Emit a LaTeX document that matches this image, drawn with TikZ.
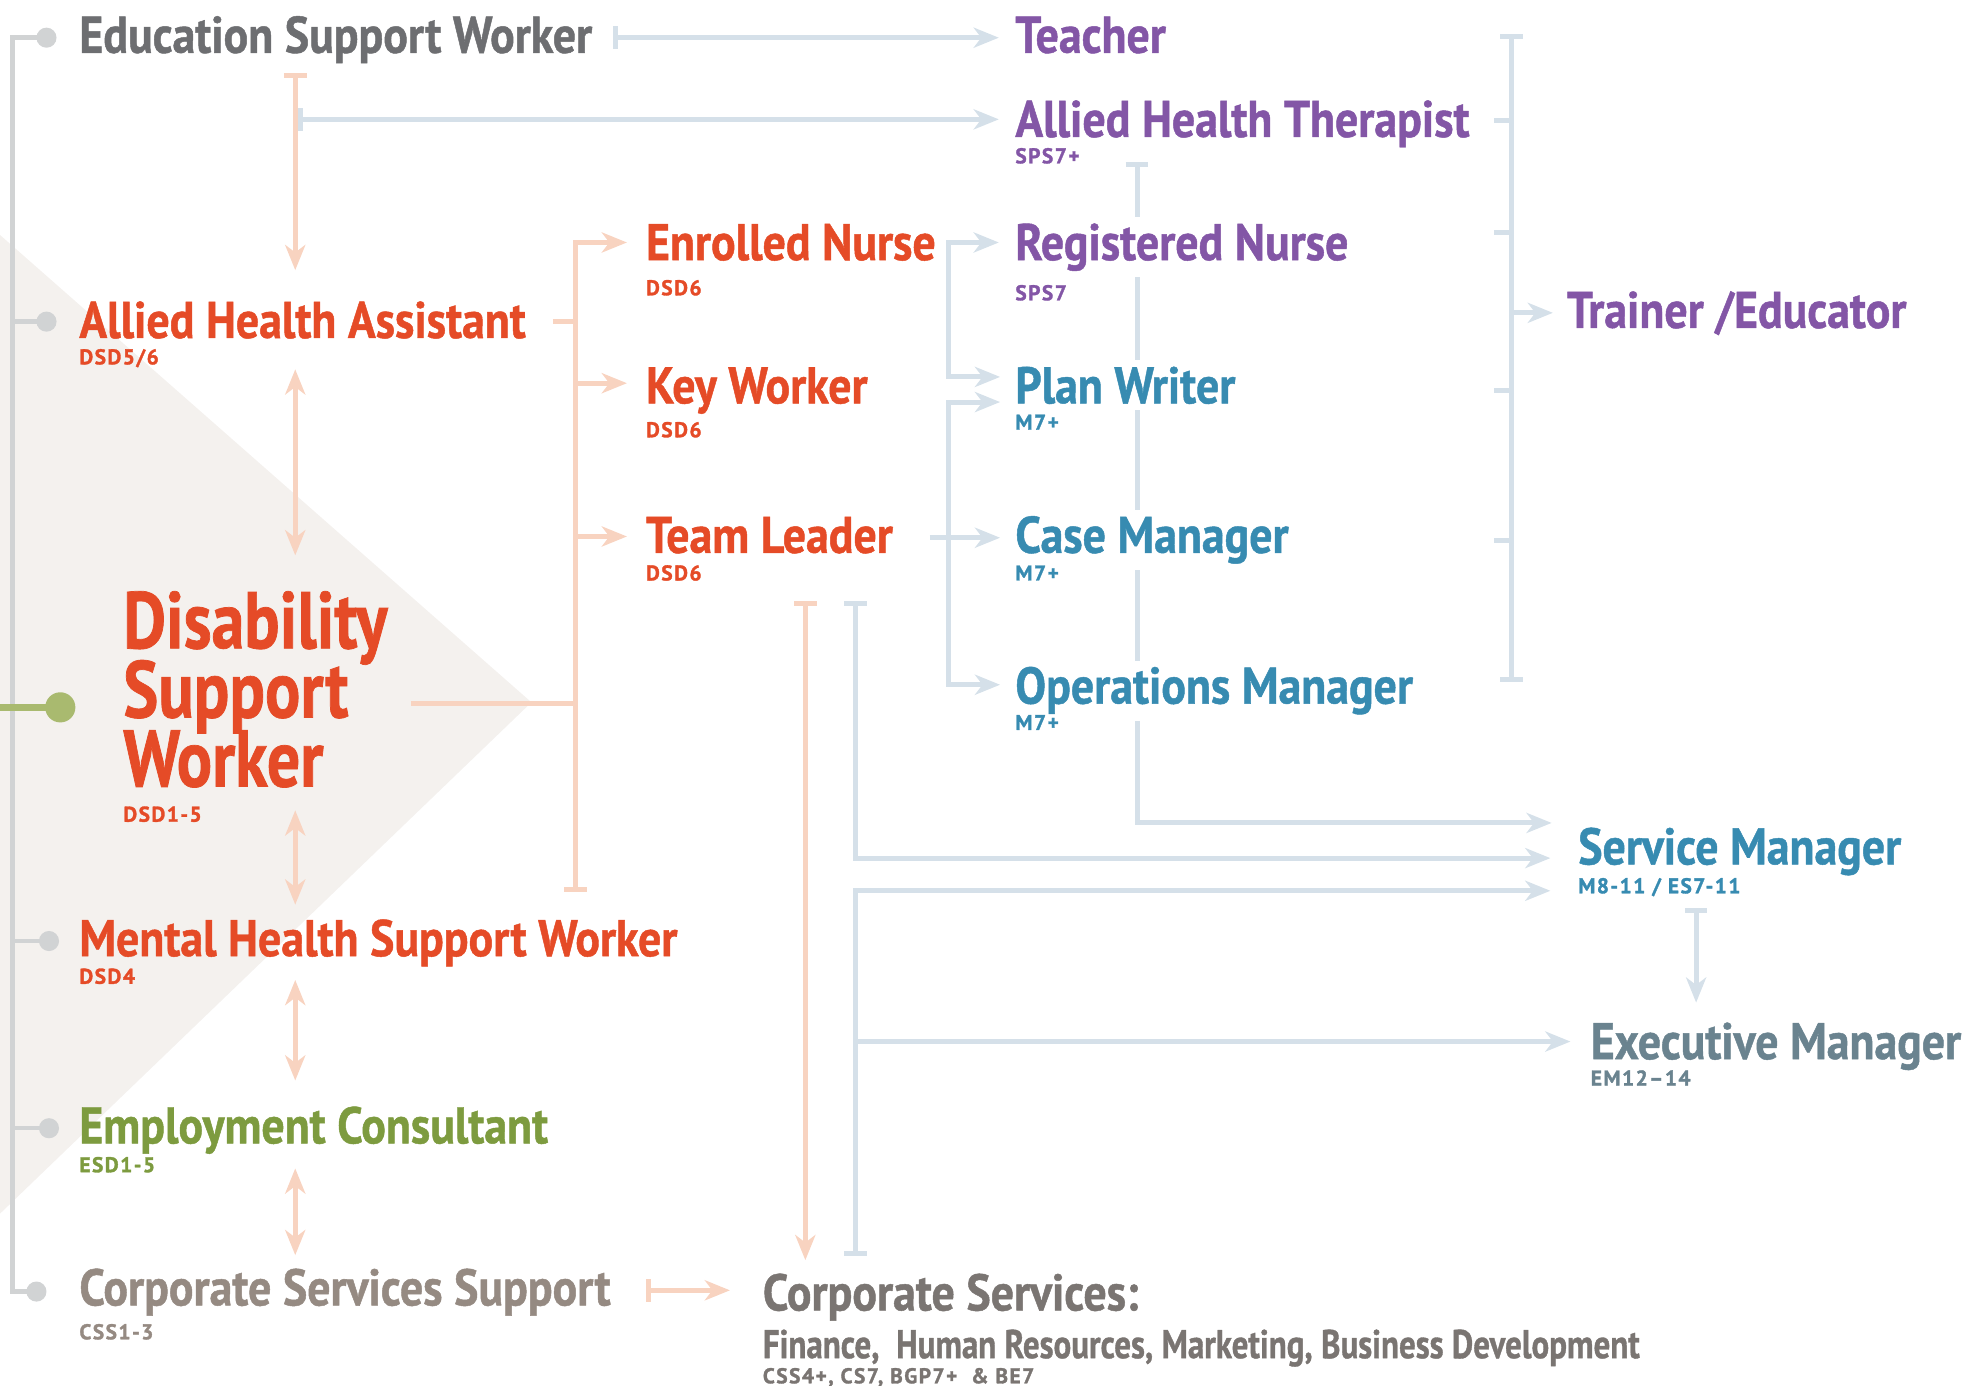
\documentclass[tikz,border=0pt]{standalone}
\usepackage{fontspec}
\usetikzlibrary{arrows.meta}
\newfontfamily\cf[FakeStretch=0.89,FakeBold=0.9]{PT Sans}
\newfontfamily\cfn[FakeStretch=0.82,FakeBold=0.9]{PT Sans}
\newfontfamily\subf[LetterSpace=7,FakeBold=1.5]{PT Sans}
\definecolor{cRed}{HTML}{E54B27}
\definecolor{cPur}{HTML}{8356A6}
\definecolor{cTeal}{HTML}{378BB1}
\definecolor{cGry}{HTML}{6D6E71}
\definecolor{cGrn}{HTML}{7D9B3F}
\definecolor{cBrn}{HTML}{958A82}
\definecolor{cCS}{HTML}{7A7572}
\definecolor{cSlate}{HTML}{6A838F}
\definecolor{lnO}{HTML}{F8D3C0}
\definecolor{lnB}{HTML}{D5E0E9}
\definecolor{lnG}{HTML}{D1D3D4}
\definecolor{dotG}{HTML}{A9BA6F}
\definecolor{tri}{HTML}{F4F1EE}
\pgfdeclarelayer{bgbg}\pgfdeclarelayer{bg}\pgfsetlayers{bgbg,bg,main}
\begin{document}
\begin{tikzpicture}[x=1pt,y=-1pt,
  Tp/.tip={Stealth[length=20pt,width=16pt,inset=6pt]},
  Br/.tip={Bar[width=18pt]},
  lab/.style={anchor=base west, inner sep=0pt, font=\cf\bfseries\fontsize{41}{41}\selectfont},
  sub/.style={anchor=base west, inner sep=0pt, font=\subf\bfseries\fontsize{17}{17}\selectfont},
  wf/.style={fill=white, inner xsep=0pt, inner ysep=5pt},
  ol/.style={draw=lnO, line width=4pt},
  bl/.style={draw=lnB, line width=4pt},
  gl/.style={draw=lnG, line width=3.5pt},
  gdot/.style={circle, fill=lnG, minimum size=16pt, inner sep=0pt},
]
\useasboundingbox (0,0) rectangle (1568,1103);
% ---------- nodes ----------
\node[lab, text=cGry] (esw) at (63,42) {Education Support Worker};
\node[lab, text=cPur] (teacher) at (808,42) {Teacher};
\node[lab, wf, text=cPur] (aht) at (808,109) {Allied Health Therapist};
\node[sub, text=cPur] (ahtg) at (808,130) {SPS7+};
\node[lab, wf, text=cPur] (rn) at (808,207) {Registered Nurse};
\node[sub, text=cPur] (rng) at (808,239) {SPS7};
\node[lab, wf, text=cTeal] (pw) at (808,321) {Plan Writer};
\node[sub, text=cTeal] (pwg) at (808,342) {M7+};
\node[lab, wf, text=cTeal] (cm) at (808,440) {Case Manager};
\node[sub, text=cTeal] (cmg) at (808,462) {M7+};
\node[lab, wf, text=cTeal] (om) at (808,560) {Operations Manager};
\node[sub, text=cTeal] (omg) at (808,581) {M7+};
\node[lab, text=cRed] (en) at (514,207) {Enrolled Nurse};
\node[sub, text=cRed] (eng) at (514,235) {DSD6};
\node[lab, text=cRed] (kw) at (514,321) {Key Worker};
\node[sub, text=cRed] (kwg) at (514,348) {DSD6};
\node[lab, text=cRed] (tl) at (514,440) {Team Leader};
\node[sub, text=cRed] (tlg) at (514,462) {DSD6};
\node[lab, text=cRed] (aha) at (63,269) {Allied Health Assistant};
\node[sub, text=cRed] (ahag) at (63,290) {DSD5/6};
\node[lab, text=cRed, font=\cfn\bfseries\fontsize{64}{55}\selectfont] (dsw) at (98,516)
  {\lineskiplimit=-100pt\vtop{\hbox{Disability}\hbox{Support}\hbox{Worker}}};
\node[sub, text=cRed] (dswg) at (98,654) {DSD1-5};
\node[lab, text=cRed] (mhsw) at (63,761) {Mental Health Support Worker};
\node[sub, text=cRed] (mhswg) at (63,783) {DSD4};
\node[lab, text=cGrn] (ec) at (63,910) {Employment Consultant};
\node[sub, text=cGrn] (ecg) at (63,933) {ESD1-5};
\node[lab, text=cBrn] (css) at (63,1039) {Corporate Services Support};
\node[sub, text=cBrn] (cssg) at (63,1066) {CSS1-3};
\node[lab, text=cCS] (cs) at (607,1043) {Corporate Services:};
\node[lab, text=cCS, font=\cfn\bfseries\fontsize{32}{32}\selectfont] (cssub) at (607,1081) {Finance,\ \ Human Resources, Marketing, Business Development};
\node[sub, text=cCS] (csg) at (607,1101) {CSS4+, CS7, BGP7+\ \ \& BE7};
\node[lab, text=cTeal] (sm) at (1256,688) {Service Manager};
\node[sub, text=cTeal] (smg) at (1256,711) {M8-11 / ES7-11};
\node[lab, text=cSlate] (em) at (1266,843) {Executive Manager};
\node[sub, text=cSlate] (emg) at (1266,864) {EM12–14};
\node[lab, text=cPur] (te) at (1247,261) {Trainer /Educator};
% dots
\node[gdot] (de) at (37,30) {};
\node[gdot] (da) at (37,256) {};
\node[gdot] (dm) at (39,749) {};
\node[gdot] (dc) at (39,898) {};
\node[gdot] (ds) at (29,1028) {};
\node[circle, fill=dotG, minimum size=24pt, inner sep=0pt] (dd) at (48,563) {};
% ---------- coordinates ----------
\coordinate (spT) at (10,30);
\coordinate (spB) at (10,1028);
\coordinate (g0) at (0,563);
% orange
\coordinate (oA1) at (235,58);  \coordinate (oA2) at (235,215);
\coordinate (oB1) at (235,294); \coordinate (oB2) at (235,442);
\coordinate (oC1) at (235,645); \coordinate (oC2) at (235,720);
\coordinate (oD1) at (235,780); \coordinate (oD2) at (235,860);
\coordinate (oE1) at (235,930); \coordinate (oE2) at (235,999);
\coordinate (ahaR) at (440,256);
\coordinate (dswR) at (327,560);
\coordinate (trT) at (458,193); \coordinate (trB) at (458,710);
\coordinate (enIn) at (499,193); \coordinate (kwIn) at (499,305); \coordinate (tlIn) at (499,427);
\coordinate (tlD1) at (641,478); \coordinate (csIn1) at (641,1003);
\coordinate (cssR) at (514,1027); \coordinate (csIn2) at (581,1027);
% blue
\coordinate (eswR) at (488,30); \coordinate (teIn) at (795,30);
\coordinate (ahtL) at (237,95); \coordinate (ahtIn) at (795,95);
\coordinate (rnIn) at (795,193); \coordinate (enC) at (755,193); \coordinate (enC2) at (755,300); \coordinate (pwIn1) at (796,300);
\coordinate (pwIn2) at (796,320); \coordinate (tlC) at (755,320); \coordinate (tlC2) at (755,545); \coordinate (omIn) at (796,545);
\coordinate (tlR) at (740,428); \coordinate (cmIn) at (796,428);
\coordinate (spA) at (905,129); \coordinate (spAc) at (905,655); \coordinate (smIn1) at (1235,655);
\coordinate (tlD2) at (681,478); \coordinate (tlDc) at (681,683); \coordinate (smIn2) at (1234,683);
\coordinate (csU) at (681,1000); \coordinate (csUc) at (681,709); \coordinate (smIn3) at (1234,709);
\coordinate (csE) at (681,829); \coordinate (emIn) at (1250,829);
\coordinate (smD) at (1350,723); \coordinate (emIn2) at (1350,798);
\coordinate (brT) at (1203,27); \coordinate (brB) at (1203,543); \coordinate (brM) at (1203,249); \coordinate (trIn) at (1236,249);
% ---------- background ----------
\begin{pgfonlayer}{bgbg}
\fill[tri] (0,187) -- (423,559) -- (0,966) -- cycle;
\end{pgfonlayer}
\begin{pgfonlayer}{bg}
% gray spine
\draw[gl] (de.center) -- (spT) -- (spB) -- (ds.center);
\draw[gl] (da.center) -- (da.center -| spT);
\draw[gl] (dm.center) -- (dm.center -| spT);
\draw[gl] (dc.center) -- (dc.center -| spT);
\draw[draw=dotG, line width=6pt] (g0) -- (dd.center);
% orange
\draw[ol, Br-Tp] (oA1) -- (oA2);
\draw[ol, Tp-Tp] (oB1) -- (oB2);
\draw[ol, Tp-Tp] (oC1) -- (oC2);
\draw[ol, Tp-Tp] (oD1) -- (oD2);
\draw[ol, Tp-Tp] (oE1) -- (oE2);
\draw[ol] (ahaR) -- (ahaR -| trT);
\draw[ol] (dswR) -- (dswR -| trT);
\draw[ol, Tp-Br] (enIn) -- (trT) -- (trB);
\draw[ol, -Tp] (kwIn -| trT) -- (kwIn);
\draw[ol, -Tp] (tlIn -| trT) -- (tlIn);
\draw[ol, Br-Tp] (tlD1) -- (csIn1);
\draw[ol, Br-Tp] (cssR) -- (csIn2);
% blue
\draw[bl, Br-Tp] (eswR) -- (teIn);
\draw[bl, Br-Tp] (ahtL) -- (ahtIn);
\draw[bl, Tp-Tp] (rnIn) -- (enC) -- (enC2) -- (pwIn1);
\draw[bl, Tp-Tp] (pwIn2) -- (tlC) -- (tlC2) -- (omIn);
\draw[bl, -Tp] (tlR) -- (cmIn);
\draw[bl, Br-Tp] (spA) -- (spAc) -- (smIn1);
\draw[bl, Br-Tp] (tlD2) -- (tlDc) -- (smIn2);
\draw[bl, Br-Tp] (csU) -- (csUc) -- (smIn3);
\draw[bl, -Tp] (csE) -- (emIn);
\draw[bl, Br-Tp] (smD) -- (emIn2);
\draw[bl, Br-Br] (brT) -- (brB);
\foreach \yy in {96,185,311,430} \draw[bl] (1189,\yy) -- (1203,\yy);
\draw[bl, -Tp] (brM) -- (trIn);
\end{pgfonlayer}
\end{tikzpicture}
\end{document}
